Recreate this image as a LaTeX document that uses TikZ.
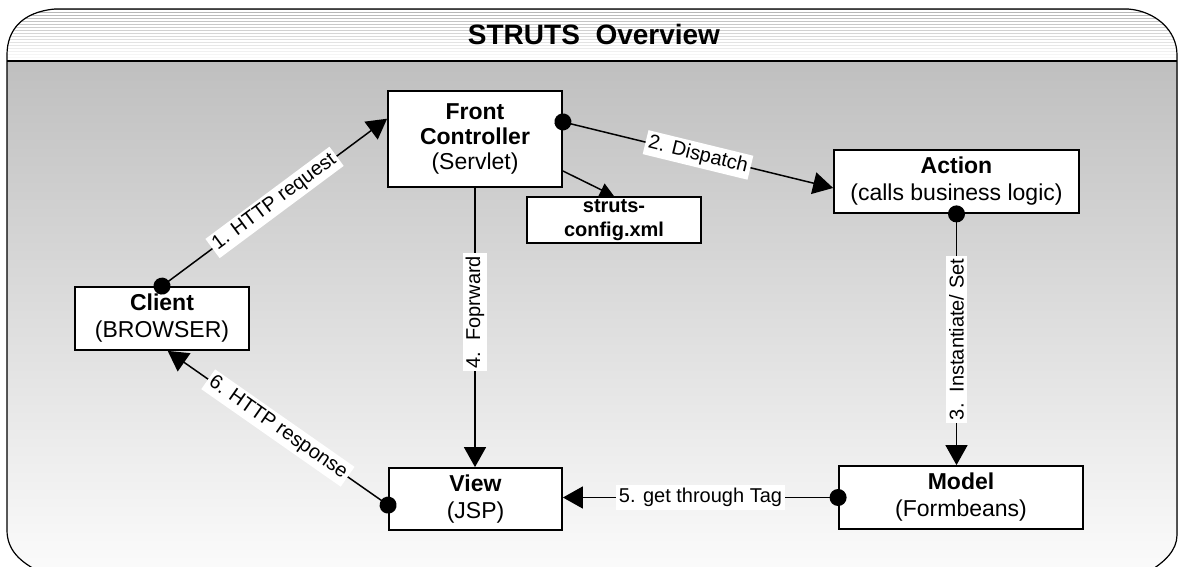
\documentclass[tikz,border=0pt]{standalone}
\usepackage{fontspec}
\setmainfont{Liberation Sans}
\usepackage{tikz}
\usetikzlibrary{positioning, arrows.meta, calc}

\newcommand{\strutsframe}{(7,55) .. controls (7,30) and (22,12) .. (55,9) -- (1128,9)
  .. controls (1155,11) and (1177,30) .. (1177,55) -- (1177,535)
  .. controls (1177,550) and (1165,562) .. (1148,572) -- (40,572)
  .. controls (20,562) and (7,550) .. (7,530) -- cycle}

\begin{document}
\begin{tikzpicture}[x=0.5pt, y=-0.5pt,
  box/.style={
    rectangle, draw, fill=white, line width=0.9pt, align=center, inner sep=1pt,
    font=\fontsize{11.5}{13.5}\selectfont
  },
  lbl/.style={fill=white, inner sep=1.5pt, font=\fontsize{10}{12}\selectfont},
  flow/.style={{Circle[length=8.5pt]}-{Triangle[length=10pt, width=11pt]},
    shorten <=-4.25pt, line width=0.75pt},
  plain/.style={-{Triangle[length=10pt, width=11pt]}, line width=0.75pt}]
\useasboundingbox (0,0) rectangle (1178,567);
\begin{scope}
\clip \strutsframe;
\fill[top color=gray!60, bottom color=white] (0,9) rectangle (1178,61);
\foreach \s in {0,...,16}
  \draw[white, line width=0.7pt] (0,{11+3*\s}) -- (1178,{11+3*\s});
\fill[top color=gray!50, bottom color=gray!3] (0,61) rectangle (1178,572);
\end{scope}
\draw[line width=0.6pt] \strutsframe;
\draw[line width=1pt] (7,61) -- (1177,61);
\node[font=\fontsize{14}{16}\selectfont\bfseries] (title) at (594,34) {STRUTS\ \ Overview};

\node[box, minimum width=87pt, minimum height=48pt, font=\fontsize{11.5}{12.5}\selectfont] (fc) at (475,139)
  {\textbf{Front}\\\textbf{Controller}\\(Servlet)};
\node[box, minimum width=87pt, minimum height=23pt, font=\fontsize{10}{12}\selectfont\bfseries] (cfg) at (614,220)
  {struts-\\config.xml};
\node[box, minimum width=122.5pt, minimum height=31.5pt] (action) at (956.5,181.5)
  {\textbf{Action}\\(calls business logic)};
\node[box, minimum width=87pt, minimum height=31.5pt] (client) at (162,318.5)
  {\textbf{Client}\\(BROWSER)};
\node[box, minimum width=86.5pt, minimum height=31pt] (view) at (475.5,499)
  {\textbf{View}\\(JSP)};
\node[box, minimum width=122pt, minimum height=31.5pt] (model) at (961,497.5)
  {\textbf{Model}\\(Formbeans)};

\draw[flow] (client.north) -- node[lbl, sloped] {1. HTTP request} (fc.167);
\draw[flow] (fc.11) -- node[lbl, sloped] {2. Dispatch} (action.183);
\draw[-{Triangle[length=7pt, width=7pt]}, line width=0.75pt] (fc.-20) -- (cfg.north);
\draw[flow] (action.south) -- node[lbl, rotate=90] {3.\ \ Instantiate/ Set} (action.south |- model.north);
\draw[plain] (fc.south) -- node[lbl, rotate=90, pos=0.445] {4.\ \ Foprward} (fc.south |- view.north);
\draw[flow] (model.west) -- node[lbl] {5. get through Tag} (model.west -| view.east);
\draw[flow] (view.184) -- node[lbl, sloped] {6. HTTP response} (client.-80);
\end{tikzpicture}
\end{document}
